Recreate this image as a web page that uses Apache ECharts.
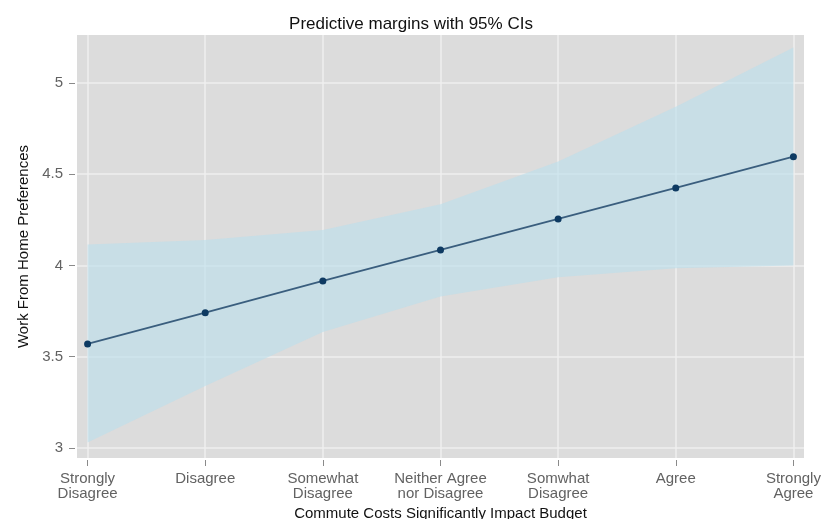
<!DOCTYPE html>
<html>
<head>
<meta charset="utf-8">
<script src="https://cdn.jsdelivr.net/npm/echarts@6/dist/echarts.min.js"></script>
<style>
  html, body { margin: 0; padding: 0; background: #ffffff; }
  #chart { width: 837px; height: 519px; }
</style>
</head>
<body>
<div id="chart"></div>
<script>
// Response categories along the x axis
const categories = [
  'Strongly\nDisagree', 'Disagree', 'Somewhat\nDisagree', 'Neither Agree\nnor Disagree',
  'Somwhat\nDisagree', 'Agree', 'Strongly\nAgree'
];
// Predicted margins and 95% confidence bounds
const margins = [3.570, 3.741, 3.915, 4.085, 4.255, 4.425, 4.596];
const ciLower = [3.030, 3.340, 3.635, 3.830, 3.935, 3.985, 4.000];
const ciUpper = [4.115, 4.140, 4.195, 4.335, 4.570, 4.870, 5.195];
// Y axis tick values
const yTicks = [3, 3.5, 4, 4.5, 5];

const xIdx = categories.map((_, i) => i);
const bandData = xIdx.map(i => [i, ciLower[i], ciUpper[i]]);
const marginData = xIdx.map(i => [i, margins[i]]);

const FONT = '"Liberation Sans", Arial, Helvetica, sans-serif';
const chart = echarts.init(document.getElementById('chart'), null, { renderer: 'canvas' });

// Confidence band: one polygon through the upper bounds and back along the lower bounds
function renderBand(params, api) {
  if (params.dataIndex !== 0) return null;
  const upper = bandData.map(d => api.coord([d[0], d[2]]));
  const lower = bandData.map(d => api.coord([d[0], d[1]])).reverse();
  return {
    type: 'polygon',
    shape: { points: upper.concat(lower) },
    style: { fill: 'rgba(188, 222, 236, 0.62)' },
    silent: true
  };
}

chart.setOption({
  animation: false,
  backgroundColor: '#ffffff',
  title: {
    text: 'Predictive margins with 95% CIs',
    left: 406,
    textAlign: 'center',
    top: 11,
    textStyle: { fontFamily: FONT, fontSize: 17, fontWeight: 'normal', color: '#111111' }
  },
  grid: {
    left: 77, right: 33, top: 35, bottom: 61,
    outerBoundsMode: 'none',
    show: true, backgroundColor: '#dcdcdc', borderWidth: 0
  },
  xAxis: {
    type: 'value',
    min: -0.09, max: 6.09,
    offset: 2,
    name: 'Commute Costs Significantly Impact Budget',
    nameLocation: 'middle',
    nameGap: 44,
    nameTextStyle: { fontFamily: FONT, fontSize: 15, color: '#111111' },
    axisLine: { show: false, onZero: false },
    axisTick: { show: true, length: 6, customValues: xIdx, lineStyle: { color: '#8a8a8a', width: 1 } },
    axisLabel: {
      customValues: xIdx,
      margin: 11,
      fontFamily: FONT, fontSize: 15, color: '#626262', lineHeight: 15,
      formatter: v => categories[Math.round(v)] || ''
    },
    splitLine: { show: true, lineStyle: { color: '#efefef', width: 1.5 } }
  },
  yAxis: {
    type: 'value',
    min: 2.945, max: 5.263,
    offset: 2,
    name: 'Work From Home Preferences',
    nameLocation: 'middle',
    nameGap: 33,
    nameTextStyle: { fontFamily: FONT, fontSize: 15, color: '#111111' },
    axisLine: { show: false, onZero: false },
    axisTick: { show: true, length: 6, customValues: yTicks, lineStyle: { color: '#8a8a8a', width: 1 } },
    axisLabel: {
      customValues: yTicks,
      margin: 12,
      fontFamily: FONT, fontSize: 15, color: '#626262',
      formatter: v => String(v)
    },
    splitLine: { show: true, lineStyle: { color: '#efefef', width: 1.5 } }
  },
  series: [
    {
      name: 'ci-band',
      type: 'custom',
      data: bandData,
      encode: { x: 0, y: [1, 2] },
      renderItem: renderBand,
      silent: true,
      z: 2
    },
    {
      name: 'margin',
      type: 'line',
      data: marginData,
      symbol: 'circle',
      symbolSize: 7,
      itemStyle: { color: '#0e3a62' },
      lineStyle: { color: '#3a5e7e', width: 1.8 },
      z: 3
    }
  ]
});
</script>
</body>
</html>
